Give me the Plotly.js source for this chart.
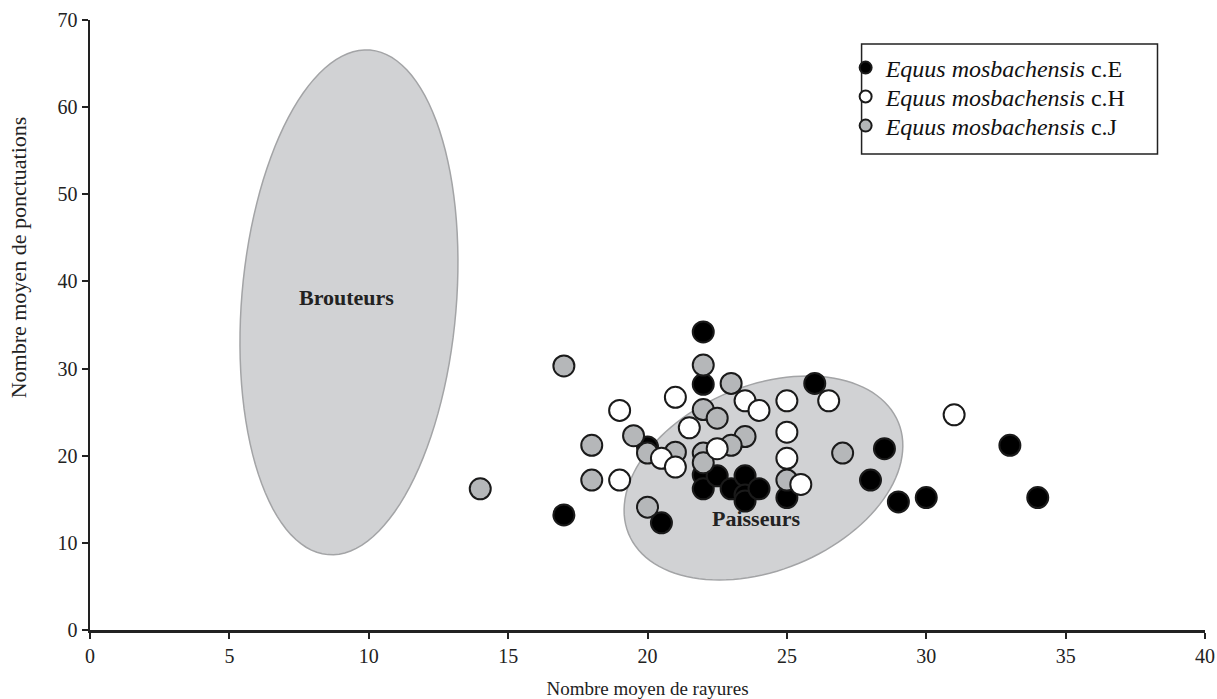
<!DOCTYPE html>
<html>
<head>
<meta charset="utf-8">
<script src="https://cdn.plot.ly/plotly-3.0.1.min.js"></script>
<style>html,body{margin:0;padding:0;background:#fff;}#chart{width:1217px;height:699px;}</style>
</head>
<body>
<div id="chart"></div>
<script>
// ---- Data ----
const seriesNames = ["<i>Equus mosbachensis</i> c.E", "<i>Equus mosbachensis</i> c.H", "<i>Equus mosbachensis</i> c.J"];

const E_x = [22, 22, 26, 17, 20.5, 20, 22, 22, 22.5, 23, 23.5, 23.5, 23.5, 24, 25, 28.5, 28, 29, 30, 33, 34];
const E_y = [34.2, 28.2, 28.3, 13.2, 12.3, 21.0, 17.8, 16.2, 17.7, 16.2, 17.7, 15.5, 14.8, 16.2, 15.2, 20.8, 17.2, 14.7, 15.2, 21.2, 15.2];

const H_x = [21, 19, 21.5, 20.5, 21, 22.5, 19, 23.5, 24, 25, 26.5, 25, 25, 25.5, 31];
const H_y = [26.7, 25.2, 23.2, 19.7, 18.7, 20.8, 17.2, 26.3, 25.2, 26.3, 26.3, 22.7, 19.7, 16.7, 24.7];

const J_x = [17, 22, 23, 22, 22.5, 18, 19.5, 20, 21, 22, 22, 18, 20, 23.5, 23, 27, 25, 14];
const J_y = [30.3, 30.4, 28.3, 25.3, 24.3, 21.2, 22.3, 20.3, 20.4, 20.3, 19.2, 17.2, 14.1, 22.2, 21.2, 20.3, 17.2, 16.2];

const xTicks = [0, 5, 10, 15, 20, 25, 30, 35, 40];
const yTicks = [0, 10, 20, 30, 40, 50, 60, 70];

const xTitle = "Nombre moyen de rayures";
const yTitle = "Nombre moyen de ponctuations";

const zoneLabels = ["Brouteurs", "Paisseurs"];
// zone ellipses: center, major half-axis vector, minor half-axis vector (data units)
const zoneCenters = [[9.29, 37.6], [24.16, 17.44]];
const zoneU = [[0.757, 28.95], [4.84, 6.38]];
const zoneV = [[3.836, -1.03], [1.254, -9.81]];
const zoneLabelPos = [[9.2, 38.2], [23.9, 12.85]];

// ---- Build ellipse paths ----
function ellipsePath(c, u, v) {
  const n = 120;
  let d = "";
  for (let i = 0; i <= n; i++) {
    const t = 2 * Math.PI * i / n;
    const x = c[0] + u[0] * Math.cos(t) + v[0] * Math.sin(t);
    const y = c[1] + u[1] * Math.cos(t) + v[1] * Math.sin(t);
    d += (i === 0 ? "M" : "L") + x.toFixed(4) + "," + y.toFixed(4);
  }
  return d + "Z";
}

const shapes = zoneCenters.map((c, i) => ({
  type: "path", xref: "x", yref: "y", layer: "below",
  path: ellipsePath(c, zoneU[i], zoneV[i]),
  fillcolor: "#d1d2d4", line: {color: "#a3a4a6", width: 1.5}
}));
// legend frame
shapes.push({
  type: "rect", xref: "paper", yref: "paper", layer: "below",
  x0: 0.6920, x1: 0.9574, y0: 0.7803, y1: 0.9607,
  fillcolor: "#ffffff", line: {color: "#222", width: 1.5}
});

const annotations = zoneLabels.map((t, i) => ({
  x: zoneLabelPos[i][0], y: zoneLabelPos[i][1], xref: "x", yref: "y",
  text: "<b>" + t + "</b>", showarrow: false,
  font: {family: "Liberation Serif, serif", size: 22, color: "#222"}
}));
annotations.push({
  x: -0.0643, y: 42.8, xref: "paper", yref: "y", textangle: -90,
  text: yTitle, showarrow: false, xanchor: "center", yanchor: "middle",
  font: {family: "Liberation Serif, serif", size: 22, color: "#222"}
});

const mk = (fill) => ({size: 21, color: fill, line: {color: "#1a1a1a", width: 2}});

const traces = [
  {x: E_x, y: E_y, name: seriesNames[0], mode: "markers", type: "scatter",
   marker: mk("#000000"), legend: "legend"},
  {x: J_x, y: J_y, name: seriesNames[2], mode: "markers", type: "scatter",
   marker: mk("#b5b7b9"), legend: "legend3"},
  {x: H_x, y: H_y, name: seriesNames[1], mode: "markers", type: "scatter",
   marker: mk("#ffffff"), legend: "legend2"}
];

const tickFont = {family: "Liberation Serif, serif", size: 20, color: "#222"};
const titleFont = {family: "Liberation Serif, serif", size: 19, color: "#222"};
const legFont = {family: "Liberation Serif, serif", size: 24, color: "#111"};
const legBase = (y) => ({
  x: 0.6777, y: y, xanchor: "left", yanchor: "top",
  bgcolor: "rgba(0,0,0,0)", borderwidth: 0, font: legFont, itemsizing: "constant"
});

const layout = {
  width: 1217, height: 699,
  margin: {l: 90, r: 12, t: 20, b: 69},
  paper_bgcolor: "#fff", plot_bgcolor: "#fff",
  showlegend: true,
  legend: legBase(0.9582),
  legend2: legBase(0.9107),
  legend3: legBase(0.8631),
  xaxis: {
    range: [0, 40], tickvals: xTicks, ticktext: xTicks.map(String),
    showgrid: false, zeroline: false, showline: true, linecolor: "#222", linewidth: 2.5,
    ticks: "outside", ticklen: 6, tickwidth: 2, tickcolor: "#222",
    tickfont: tickFont, ticklabeloverflow: "allow",
    automargin: false,
    title: {text: xTitle, font: titleFont, standoff: 20}
  },
  yaxis: {
    range: [0, 70], tickvals: yTicks, ticktext: yTicks.map(String),
    showgrid: false, zeroline: false, showline: true, linecolor: "#222", linewidth: 2.5,
    ticks: "outside", ticklen: 6, tickwidth: 2, tickcolor: "#222",
    tickfont: tickFont, ticklabeloverflow: "allow",
    automargin: false
  },
  shapes: shapes,
  annotations: annotations
};

Plotly.newPlot("chart", traces, layout, {displayModeBar: false, staticPlot: true});
</script>
</body>
</html>
